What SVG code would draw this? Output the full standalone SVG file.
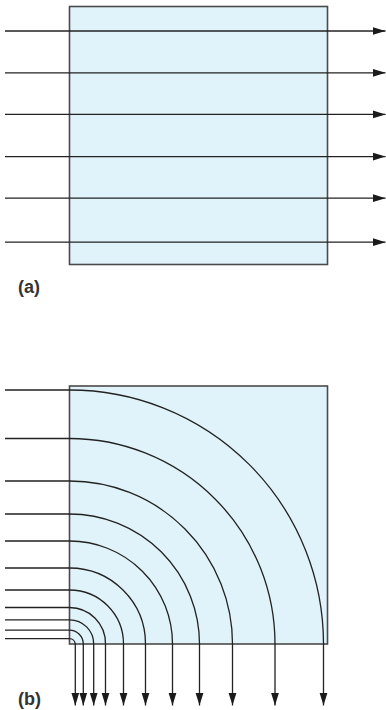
<svg xmlns="http://www.w3.org/2000/svg" width="386" height="710" viewBox="0 0 386 710">
<style>
.box{fill:#e0f2fa;stroke:#4a4a4a;stroke-width:1.6}
.ln{fill:none;stroke:#222;stroke-width:1.3;marker-end:url(#ah)}
.lbl{font-family:"Liberation Sans",Arial,sans-serif;font-weight:bold;font-size:18px;fill:#333}
</style>
<defs>
<marker id="ah" markerUnits="userSpaceOnUse" markerWidth="13" markerHeight="9" refX="13" refY="4.5" orient="auto">
<path d="M0,0.5 L13,4.5 L0,8.5 z" fill="#1a1a1a"/>
</marker>
</defs>
<g id="panel-a">
<rect class="box" x="69.5" y="6.5" width="258" height="258"/>
</g>
<g id="panel-b">
<rect class="box" x="69.5" y="386" width="258" height="258"/>
</g>
<g id="connectors">
<path class="ln" d="M5,31 H385.5"/>
<path class="ln" d="M5,72.8 H385.5"/>
<path class="ln" d="M5,114.4 H385.5"/>
<path class="ln" d="M5,156.6 H385.5"/>
<path class="ln" d="M5,198.2 H385.5"/>
<path class="ln" d="M5,242.2 H385.5"/>
<path class="ln" d="M5,390 H69.5 A254,254 0 0 1 323.5,644 V705.5"/>
<path class="ln" d="M5,438.5 H69.5 A205.5,205.5 0 0 1 275,644 V705.5"/>
<path class="ln" d="M5,481 H69.5 A163,163 0 0 1 232.5,644 V705.5"/>
<path class="ln" d="M5,514 H69.5 A130,130 0 0 1 199.5,644 V705.5"/>
<path class="ln" d="M5,541 H69.5 A103,103 0 0 1 172.5,644 V705.5"/>
<path class="ln" d="M5,568 H69.5 A76,76 0 0 1 145.5,644 V705.5"/>
<path class="ln" d="M5,590 H69.5 A54,54 0 0 1 123.5,644 V705.5"/>
<path class="ln" d="M5,607.5 H69.5 A36,36 0 0 1 105.5,644 V705.5"/>
<path class="ln" d="M5,619.8 H69.5 A24.2,24.2 0 0 1 93.7,644 V705.5"/>
<path class="ln" d="M5,630.2 H69.5 A13.8,13.8 0 0 1 83.3,644 V705.5"/>
<path class="ln" d="M5,638.7 H69.5 A5.8,5.8 0 0 1 75.3,644 V705.5"/>
</g>
<g id="labels">
<text class="lbl" x="18" y="292.5">(a)</text>
<text class="lbl" x="18" y="704.5">(b)</text>
</g>
</svg>
